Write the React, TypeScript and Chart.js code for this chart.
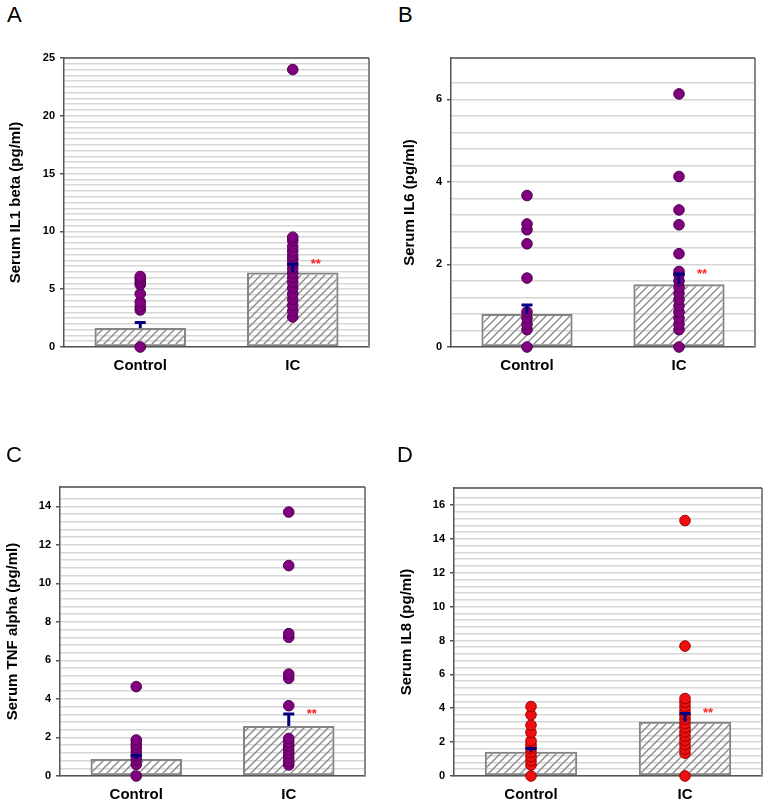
import React, { useEffect, useRef } from 'react';
import { Chart, registerables } from 'chart.js';

Chart.register(...registerables);
Chart.defaults.font.family = '"Liberation Sans", Arial, sans-serif';

const categories = ['Control', 'IC'];

// Panel A: IL1 beta
const il1Means = [1.64, 6.44];
const il1Errors = [0.49, 0.72];
const il1Control = [0, 3.2, 3.5, 3.9, 4.6, 5.4, 5.6, 5.9, 6.1];
const il1IC = [2.6, 3.1, 3.6, 4.1, 4.6, 5.1, 5.6, 6.0, 6.4, 6.8, 7.2, 7.6, 7.9, 8.3, 8.7, 9.2, 9.5, 24.0];

// Panel B: IL6
const il6Means = [0.8, 1.52];
const il6Errors = [0.22, 0.25];
const il6Control = [0, 0.42, 0.55, 0.7, 0.85, 1.67, 2.5, 2.84, 2.98, 3.67];
const il6IC = [0, 0.42, 0.55, 0.7, 0.85, 1.0, 1.15, 1.3, 1.45, 1.6, 1.75, 1.83, 2.26, 2.96, 3.32, 4.13, 6.13];

// Panel C: TNF alpha
const tnfMeans = [0.88, 2.6];
const tnfErrors = [0.19, 0.62];
const tnfControl = [0, 0.6, 0.85, 1.05, 1.25, 1.47, 1.65, 1.87, 4.64];
const tnfIC = [0.57, 0.75, 0.95, 1.15, 1.35, 1.55, 1.75, 1.95, 3.65, 5.07, 5.29, 7.2, 7.39, 10.92, 13.7];

// Panel D: IL8
const il8Means = [1.43, 3.2];
const il8Errors = [0.2, 0.49];
const il8Control = [0, 0.65, 0.9, 1.15, 1.4, 1.65, 1.85, 2.08, 2.57, 3.0, 3.61, 4.1];
const il8IC = [0, 1.35, 1.6, 1.85, 2.1, 2.35, 2.6, 2.85, 3.1, 3.35, 3.6, 3.85, 4.1, 4.35, 4.57, 7.67, 15.08];

const FONT = '"Liberation Sans", Arial, sans-serif';

function makeHatch(): CanvasPattern | string {
  const c = document.createElement('canvas');
  c.width = 8;
  c.height = 8;
  const g = c.getContext('2d');
  if (!g) return '#ffffff';
  g.strokeStyle = '#8a8a8a';
  g.lineWidth = 1.4;
  g.beginPath();
  g.moveTo(0, 8); g.lineTo(8, 0);
  g.moveTo(-4, 4); g.lineTo(4, -4);
  g.moveTo(4, 12); g.lineTo(12, 4);
  g.stroke();
  return g.createPattern(c, 'repeat') || '#ffffff';
}

type PanelProps = {
  yTitle: string;
  means: number[];
  errors: number[];
  control: number[];
  ic: number[];
  yMax: number;
  major: number;
  minor: number;
  color: string;
  border: string;
  x0: number; y0: number; W: number; H: number;
  L: number; R: number; T: number; B: number;
  titleX: number;
};

function Panel(p: PanelProps) {
  const ref = useRef<HTMLCanvasElement | null>(null);
  useEffect(() => {
    if (!ref.current) return;
    const isMajor = (v: number) => Math.abs(v / p.major - Math.round(v / p.major)) < 1e-6;
    const pts = [
      ...p.control.map((v) => ({ x: categories[0], y: v })),
      ...p.ic.map((v) => ({ x: categories[1], y: v })),
    ];
    const overlay = {
      id: 'overlay',
      beforeDatasetsDraw(chart: any) {
        const { ctx, chartArea: a } = chart;
        ctx.save();
        ctx.strokeStyle = '#888888';
        ctx.lineWidth = 2;
        ctx.beginPath();
        ctx.moveTo(a.right, a.top);
        ctx.lineTo(a.right, a.bottom);
        ctx.stroke();
        ctx.strokeStyle = '#555555';
        ctx.lineWidth = 1.5;
        ctx.beginPath();
        ctx.moveTo(a.left, a.top);
        ctx.lineTo(a.right, a.top);
        ctx.stroke();
        ctx.restore();
      },
      afterDatasetsDraw(chart: any) {
        const { ctx } = chart;
        const xs = chart.scales.x;
        const ys = chart.scales.y;
        ctx.save();
        ctx.strokeStyle = '#000080';
        ctx.lineWidth = 3;
        p.means.forEach((m, i) => {
          const px = xs.getPixelForValue(i);
          const yA = ys.getPixelForValue(m);
          const yB = ys.getPixelForValue(m + p.errors[i]);
          ctx.beginPath();
          ctx.moveTo(px, yA);
          ctx.lineTo(px, yB);
          ctx.moveTo(px - 5.5, yB);
          ctx.lineTo(px + 5.5, yB);
          ctx.stroke();
        });
        const sx = xs.getPixelForValue(1) + 23;
        const sy = ys.getPixelForValue(p.means[1] + p.errors[1]) + 4;
        ctx.fillStyle = '#ff2020';
        ctx.font = `bold 13px ${FONT}`;
        ctx.textAlign = 'center';
        ctx.textBaseline = 'alphabetic';
        ctx.fillText('**', sx, sy);
        ctx.restore();
      },
    };
    const chart = new Chart(ref.current, {
      type: 'bar',
      data: {
        labels: categories,
        datasets: [
          {
            type: 'line',
            data: pts as any,
            showLine: false,
            pointRadius: 5.3,
            pointBackgroundColor: p.color,
            pointBorderColor: p.border,
            pointBorderWidth: 1,
            order: 1,
            clip: false as any,
          } as any,
          {
            type: 'bar',
            data: p.means,
            backgroundColor: makeHatch() as any,
            borderColor: '#858585',
            borderWidth: 2,
            borderSkipped: false,
            barPercentage: 0.6,
            categoryPercentage: 1,
            order: 2,
          } as any,
        ],
      },
      options: {
        animation: false,
        responsive: false,
        devicePixelRatio: 1,
        events: [],
        layout: {
          autoPadding: false,
          padding: { left: 0, top: p.T - p.y0, right: p.x0 + p.W - p.R, bottom: 0 },
        },
        plugins: { legend: { display: false }, tooltip: { enabled: false } },
        scales: {
          x: {
            offset: true,
            grid: { display: false, drawTicks: false },
            border: { color: '#555555', width: 1.5 },
            ticks: { font: { size: 15, weight: 'bold' }, color: '#000000', padding: 10 },
            afterFit: (s: any) => { s.height = p.y0 + p.H - p.B; },
          } as any,
          y: {
            min: 0,
            max: p.yMax,
            ticks: {
              stepSize: p.minor,
              autoSkip: false,
              callback: (v: any) => (isMajor(Number(v)) ? String(Math.round(Number(v))) : ''),
              font: { size: 11, weight: 'bold' },
              color: '#000000',
              padding: 5,
            },
            grid: {
              color: '#d6d6d6',
              lineWidth: 1.5,
              tickLength: 4,
              tickColor: (ctx: any) => (ctx.tick && isMajor(ctx.tick.value) ? '#555555' : 'rgba(0,0,0,0)'),
              tickWidth: 1.5,
            },
            border: { color: '#555555', width: 1.5 },
            title: {
              display: true,
              text: p.yTitle,
              font: { size: 15, weight: 'bold' },
              color: '#000000',
              padding: { top: p.titleX - p.x0 - 9, bottom: 0 },
            },
            afterFit: (s: any) => { s.width = p.L - p.x0; },
          } as any,
        },
      },
      plugins: [overlay],
    });
    return () => chart.destroy();
  }, []);
  return (
    <div style={{ position: 'absolute', left: p.x0, top: p.y0, width: p.W, height: p.H }}>
      <canvas ref={ref} width={p.W} height={p.H} style={{ width: p.W, height: p.H, display: 'block' }} />
    </div>
  );
}

const letterStyle = (left: number, top: number): React.CSSProperties => ({
  position: 'absolute',
  left,
  top,
  fontFamily: FONT,
  fontSize: 22,
  lineHeight: '22px',
  color: '#000',
  zIndex: 2,
});

export default function App() {
  const purple = '#800080';
  const purpleB = '#4e004e';
  const red = '#ee1010';
  const redB = '#a00000';
  return (
    <div style={{ position: 'absolute', left: 0, top: 0, width: 764, height: 806, background: '#fff', overflow: 'hidden' }}>
      <div style={letterStyle(7, 4)}>A</div>
      <div style={letterStyle(398, 4)}>B</div>
      <div style={letterStyle(6, 444)}>C</div>
      <div style={letterStyle(397, 444)}>D</div>
      <Panel yTitle="Serum IL1 beta (pg/ml)" means={il1Means} errors={il1Errors} control={il1Control} ic={il1IC}
        yMax={25} major={5} minor={0.5} color={purple} border={purpleB}
        x0={0} y0={40} W={382} H={360} L={64} R={369} T={58} B={347} titleX={15.5} />
      <Panel yTitle="Serum IL6 (pg/ml)" means={il6Means} errors={il6Errors} control={il6Control} ic={il6IC}
        yMax={7} major={2} minor={0.4} color={purple} border={purpleB}
        x0={382} y0={40} W={382} H={360} L={451} R={755} T={58} B={347} titleX={410} />
      <Panel yTitle="Serum TNF alpha (pg/ml)" means={tnfMeans} errors={tnfErrors} control={tnfControl} ic={tnfIC}
        yMax={15} major={2} minor={0.4} color={purple} border={purpleB}
        x0={0} y0={440} W={382} H={366} L={60} R={365} T={487} B={776} titleX={12.5} />
      <Panel yTitle="Serum IL8 (pg/ml)" means={il8Means} errors={il8Errors} control={il8Control} ic={il8IC}
        yMax={17} major={2} minor={0.4} color={red} border={redB}
        x0={382} y0={440} W={382} H={366} L={454} R={762} T={488} B={776} titleX={407} />
    </div>
  );
}
